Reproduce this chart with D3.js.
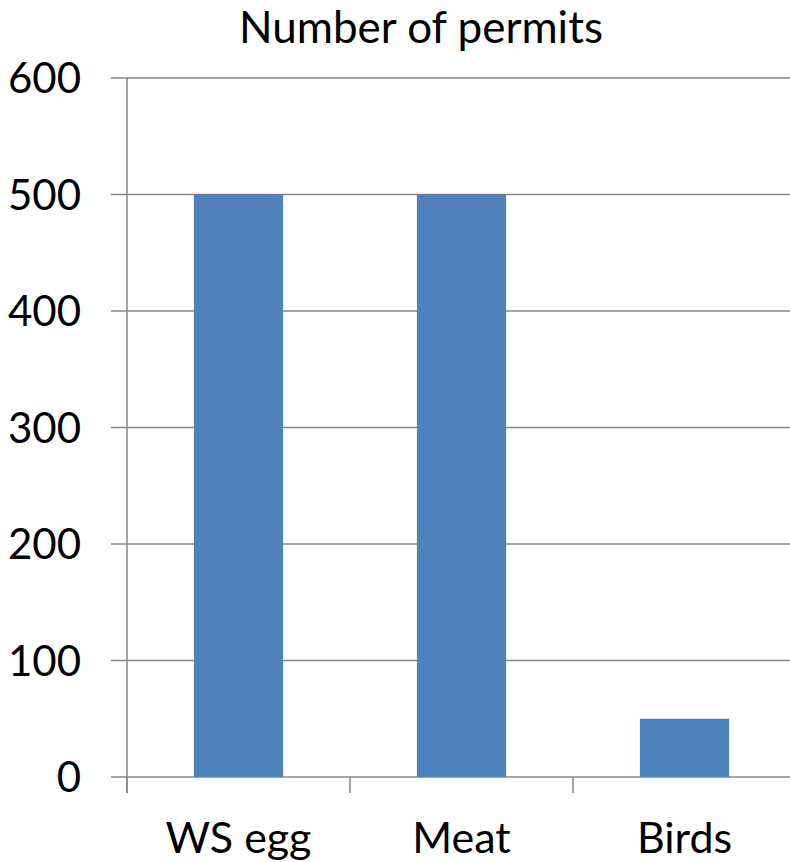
<!DOCTYPE html>
<html>
<head>
<meta charset="utf-8">
<script src="https://cdn.jsdelivr.net/npm/d3@7"></script>
<style>
body { margin: 0; background: #fff; }
text { font-family: Lato, "Open Sans", sans-serif; fill: #000; }
</style>
</head>
<body>
<div id="chart"></div>
<script>
var categories = ["WS egg", "Meat", "Birds"]
var permits = [500, 500, 50]
var yTicks = [0, 100, 200, 300, 400, 500, 600]

var w = 790, h = 862
var svg = d3.select("#chart").append("svg")
	.attr("width", w)
	.attr("height", h)

// plot area edges (names avoid window.top)
var pLeft = 127, pRight = 796, pTop = 78, pBottom = 777

var y = d3.scaleLinear().domain([0, 600]).range([pBottom, pTop])
var x = d3.scaleBand().domain(categories).range([pLeft, pRight])
	.paddingInner(0.6).paddingOuter(0.3)

// gridlines + y ticks
svg.selectAll("line.grid")
	.data(yTicks)
	.enter().append("line")
	.attr("class", "grid")
	.attr("x1", pLeft - 16)
	.attr("x2", w)
	.attr("y1", d => y(d))
	.attr("y2", d => y(d))
	.style("stroke", "#878787")
	.style("stroke-width", 1.5)

svg.selectAll("text.ylab")
	.data(yTicks)
	.enter().append("text")
	.attr("class", "ylab")
	.attr("x", 81)
	.attr("y", d => y(d))
	.attr("dy", "0.36em")
	.attr("text-anchor", "end")
	.style("font-size", "42px")
	.text(d => d)

// bars
svg.selectAll("rect.bar")
	.data(permits)
	.enter().append("rect")
	.attr("class", "bar")
	.attr("x", (d, i) => x(categories[i]))
	.attr("width", x.bandwidth())
	.attr("y", d => y(d))
	.attr("height", d => y(0) - y(d))
	.style("fill", "#4f81bd")

// y axis line
svg.append("line")
	.attr("x1", pLeft).attr("x2", pLeft)
	.attr("y1", pTop).attr("y2", pBottom + 16)
	.style("stroke", "#878787")
	.style("stroke-width", 1.5)

// x ticks between categories
var step = x.step()
svg.selectAll("line.xtick")
	.data(d3.range(categories.length + 1))
	.enter().append("line")
	.attr("class", "xtick")
	.attr("x1", d => pLeft + d * step)
	.attr("x2", d => pLeft + d * step)
	.attr("y1", pBottom)
	.attr("y2", pBottom + 16)
	.style("stroke", "#878787")
	.style("stroke-width", 1.5)

svg.selectAll("text.xlab")
	.data(categories)
	.enter().append("text")
	.attr("class", "xlab")
	.attr("x", d => x(d) + x.bandwidth() / 2)
	.attr("y", 853)
	.attr("text-anchor", "middle")
	.style("font-size", "43px")
	.text(d => d)

svg.append("text")
	.attr("x", 421)
	.attr("y", 43)
	.attr("text-anchor", "middle")
	.style("font-size", "44px")
	.text("Number of permits")
</script>
</body>
</html>
